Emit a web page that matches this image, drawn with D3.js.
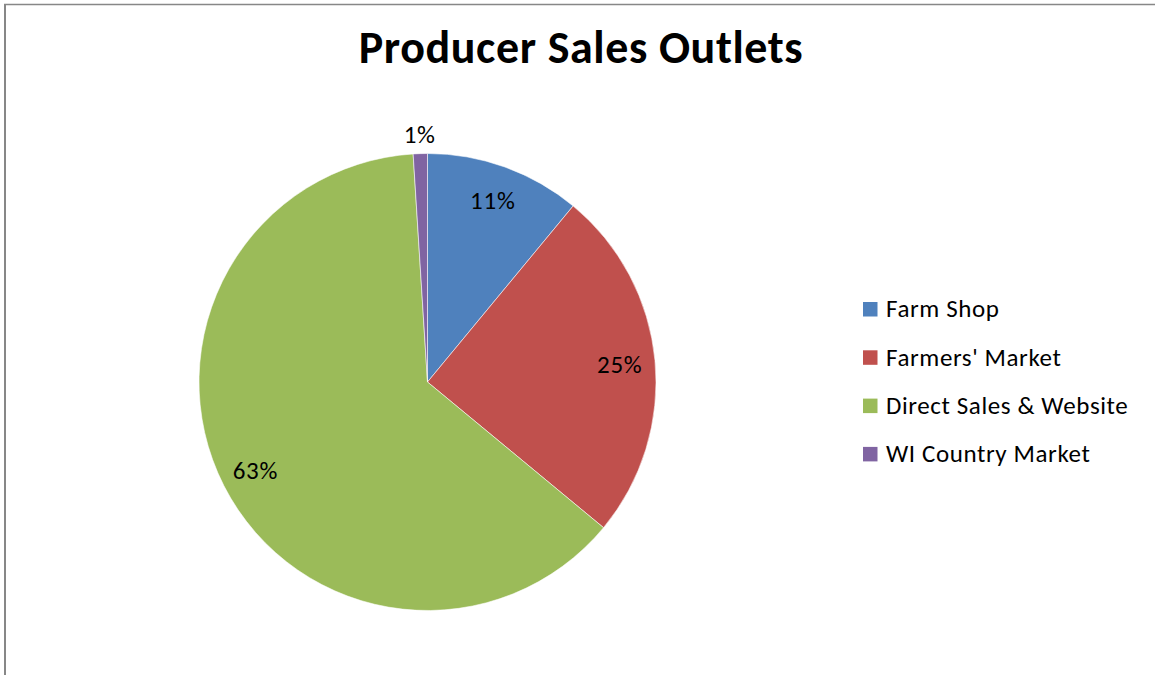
<!DOCTYPE html>
<html>
<head>
<meta charset="utf-8">
<script src="https://cdn.jsdelivr.net/npm/d3@7"></script>
<style>
  html, body { margin: 0; padding: 0; background: #ffffff; }
  svg { display: block; font-family: Carlito, Calibri, Lato, "Open Sans", sans-serif; }
</style>
</head>
<body>
<svg id="chart" width="1155" height="675"></svg>
<script>
// Sales outlet shares (percent)
const categories = ["Farm Shop", "Farmers' Market", "Direct Sales & Website", "WI Country Market"];
const values = [11, 25, 63, 1];
const colors = ["#4F81BD", "#C0504D", "#9BBB59", "#8064A2"];
const chartTitle = "Producer Sales Outlets";

const svg = d3.select("#chart");
const W = 1155, H = 675;

// chart frame (left and top edges visible)
svg.append("line").attr("x1", 5).attr("x2", 5).attr("y1", 4).attr("y2", H)
  .attr("stroke", "#878787").attr("stroke-width", 2);
svg.append("line").attr("x1", 4).attr("x2", W).attr("y1", 4.5).attr("y2", 4.5)
  .attr("stroke", "#878787").attr("stroke-width", 1.5);

// title
svg.append("text")
  .attr("x", 581).attr("y", 63)
  .attr("text-anchor", "middle")
  .attr("font-size", 46).attr("font-weight", "bold")
  .attr("letter-spacing", 0.6)
  .attr("fill", "#000")
  .text(chartTitle);

// pie
const cx = 427.5, cy = 382, R = 228.5;
const color = d3.scaleOrdinal().domain(categories).range(colors);
const pie = d3.pie().sort(null).value(d => d.value);
const data = categories.map((c, i) => ({ name: c, value: values[i] }));
const arcs = pie(data);
const arc = d3.arc().innerRadius(0).outerRadius(R);
const labelArc = d3.arc().innerRadius(R * 0.845).outerRadius(R * 0.845);
const outerLabelArc = d3.arc().innerRadius(R + 19.5).outerRadius(R + 19.5);

const g = svg.append("g").attr("transform", `translate(${cx},${cy})`);
g.selectAll("path.slice").data(arcs).join("path")
  .attr("class", "slice")
  .attr("d", arc)
  .attr("fill", d => color(d.data.name))
  .attr("stroke", "#ffffff")
  .attr("stroke-opacity", 0.7)
  .attr("stroke-width", 0.8);

const total = d3.sum(values);
g.selectAll("text.pct").data(arcs).join("text")
  .attr("class", "pct")
  .attr("transform", d => {
    const p = (d.data.value / total < 0.05 ? outerLabelArc : labelArc).centroid(d);
    return `translate(${p[0]},${p[1]})`;
  })
  .attr("text-anchor", "middle")
  .attr("dy", "0.36em")
  .attr("font-size", 25)
  .attr("letter-spacing", 0.8)
  .attr("fill", "#000")
  .text(d => Math.round(d.data.value / total * 100) + "%");

// legend
const legend = svg.append("g").attr("transform", "translate(863,302)");
const rowH = 48.3;
const item = legend.selectAll("g").data(categories).join("g")
  .attr("transform", (d, i) => `translate(0,${i * rowH})`);
item.append("rect").attr("width", 14.5).attr("height", 14.5)
  .attr("fill", d => color(d));
item.append("text")
  .attr("x", 23).attr("y", 15.3)
  .attr("font-size", 25)
  .attr("letter-spacing", 0.6)
  .attr("fill", "#000")
  .text(d => d);
</script>
</body>
</html>
